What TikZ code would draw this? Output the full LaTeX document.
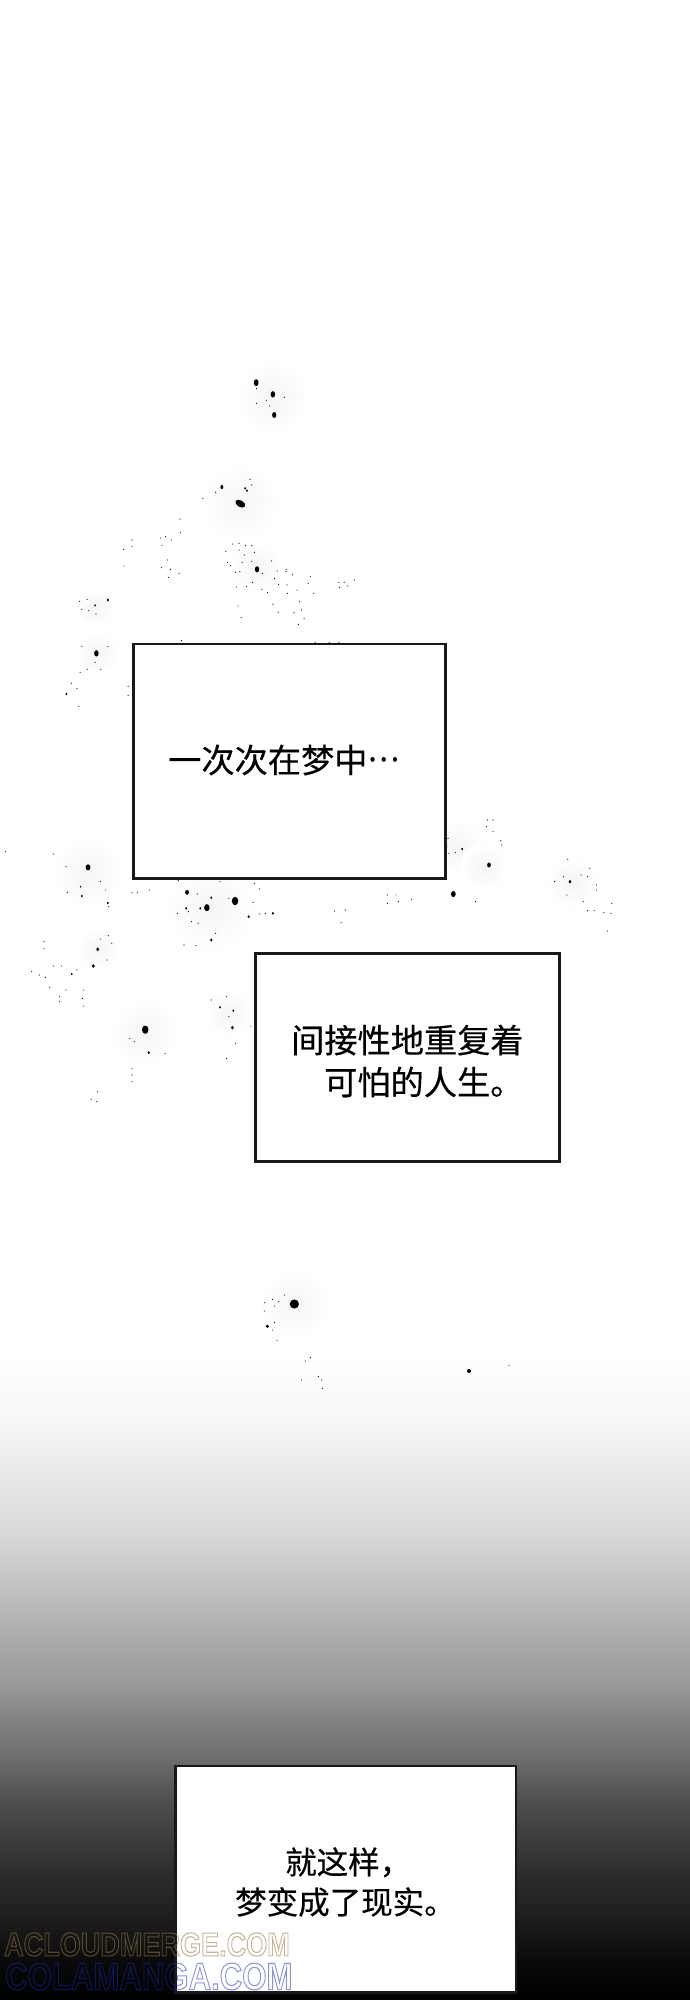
\documentclass[tikz,border=0pt]{standalone}
\usepackage{fontspec}
\newfontfamily\cjk[FakeBold=0.4]{Noto Sans CJK SC}
\newfontfamily\wm{Liberation Sans}
\pgfdeclareverticalshading{fadeblack}{690pt}{
 color(0pt)=(black);
 color(40pt)=(black!96);
 color(85pt)=(black!88);
 color(124pt)=(black!83);
 color(162pt)=(black!76);
 color(200pt)=(black!69);
 color(239pt)=(black!58);
 color(277pt)=(black!50);
 color(315pt)=(black!40);
 color(354pt)=(black!34);
 color(392pt)=(black!28);
 color(430pt)=(black!21);
 color(468pt)=(black!15);
 color(507pt)=(black!11);
 color(545pt)=(black!7);
 color(583pt)=(black!3);
 color(622pt)=(black!1);
 color(650pt)=(white)}
\tikzset{
 x=1pt,y=-1pt,
 panel/.style={draw=black!90,line width=2.6pt,fill=white,inner sep=0pt,outer sep=0pt,anchor=north west},
 caption/.style={anchor=west,inner sep=0pt,align=left,text=black,font=\cjk\fontsize{33.2}{42}\selectfont},
 captionb/.style={caption,font=\cjk\fontsize{31.5}{40}\selectfont},
 dotbig/.style={fill=black},
 glow/.style={inner color=black!4,outer color=white,draw=none},
 mark1/.style={opacity=.55,inner sep=0pt,anchor=west,xscale=.82,transform shape,font=\wm\bfseries\fontsize{33}{33}\selectfont},
 mark2/.style={opacity=.5,inner sep=0pt,anchor=west,xscale=.82,transform shape,font=\wm\bfseries\fontsize{38}{38}\selectfont},
}
\newcommand{\outl}[2]{\special{pdf:code 1 Tr 1.1 w #1 RG}#2\special{pdf:code 0 Tr}}
\begin{document}
\begin{tikzpicture}
\useasboundingbox (0,0) rectangle (690,2000);
\fill[white] (0,0) rectangle (690,2000);
\node[inner sep=0pt,outer sep=0pt,anchor=north west] (grad) at (0,1350) {\pgfuseshading{fadeblack}};
% glows
\foreach \x/\y/\r in {273/397/36,240/503/38,257/567/26,95/607/20,97/653/22,88/873/34,211/907/44,458/847/28,484/867/24,
 145/1033/34,229/1013/24,572/883/26,294/1304/34,98/949/22}{
  \shade[glow] (\x,\y) circle[radius=\r];
}
% tiny specks from first crop
\foreach \a/\b in {583/146,605/181,583/190,613/198,646/172,568/418,572/435,490/457,461/475,409/537,410/578,300/600,300/620,281/628,282/678,365/594,376/590,390/600,368/616,381/660,367/683,387/688,407/700,383/712,528/612,543/610,558/617,572/617,513/634,543/630,578/637,555/645,550/667,572/664,517/668,524/677,545/695,535/697,596/700,617/663,630/693,650/688,650/695,665/704,705/710,700/730,624/716,633/733,652/735,574/727,537/741,560/739,595/748,608/758,675/750,653/760,713/760,620/793,680/785,632/817,668/818,685/810,691/836,678/853,541/798,548/833,770/727,782/727,790/738,771/742,805/720,181/784,198/778,186/808,201/812,218/822,186/919,245/920,216/967,198/988,229/988,182/997,162/1030,175/1046,179/1099,291/1039,291/1066,412/902,716/908,748/908,770/908}{
  \fill[dotbig] ({\a/2.272},{340+\b/3}) circle[radius=.6];
}
% larger specks from first crop
\foreach \a/\b/\r in {582/128/3,620/163/2.8,623/225/2.6,504/441/1.8,557/445/1.2,561/452/1.2,584/688/2.7,219/940/2.8,245/780/1.4,216/796/1.1,151/1062/1.2}{
  \fill[dotbig] ({\a/2.272},{340+\b/3}) ellipse[x radius=.8*\r,y radius=1.15*\r];
}
\fill[dotbig] ({546/2.272},{340+491/3}) ellipse[x radius=5.4,y radius=3.3,rotate=-30];
% tiny specks from second crop
\foreach \a/\b in {12/335,122/342,150/380,153/457,228/425,240/450,247/500,300/458,312/458,340/450,405/422,448/462,500/425,520/475,575/487,590/447,578/430,428/515,403/520,435/545,450/550,590/522,603/520,418/615,445/617,490/580,246/587,228/597,254/610,100/605,100/625,243/660,122/678,140/678,175/690,72/695,90/705,103/712,113/742,150/750,190/750,135/770,187/775,135/785,190/798,480/780,515/770,520/830,570/858,535/910,515/955,295/895,305/905,375/940,300/985,300/1005,300/1025,222/1055,207/1078,220/1085,1018/295,1015/320,1020/340,1035/338,1107/240,1120/240,1105/260,1120/275,1138/302,1140/315,880/465,900/465,880/490,905/485,935/478,1080/485,760/513,785/510,775/548,1290/358,1340/385,1320/405,1335/410,1280/410,1260/425,1355/435,1355/450,1288/465,1325/485,1390/490,1335/512,1350/512,1372/518,1388/520,1380/573}{
  \fill[dotbig] ({\a/2.272},{740+\b/3}) circle[radius=.6];
}
% larger specks from second crop
\foreach \a/\b/\r in {200/382/2.8,1050/327/1.2,1111/375/2.2,1030/462/2.8,1295/425/1.7,425/457/2.2,534/483/3.8,470/503/3.2,565/530/1.4,620/520/1.4,480/600/1.4,222/628/1.8,212/678/1.8,163/702/1.1,330/869/3.8,528/863/1.7,338/938/1.4,500/802/1.2,530/812/1.2,245/489/1.2,186/468/1.2,183/440/.9,480/473/1.2,423/505/1.2,455/505/1.2}{
  \fill[dotbig] ({\a/2.272},{740+\b/3}) ellipse[x radius=.85*\r,y radius=1.1*\r];
}
% specks from third crop
\foreach \a/\b in {253/105,218/118,236/125,223/138,194/128,193/153,223/187,217/210,231/241,331/293,316/303,304/360,355/350,365/360,367/385,927/316}{
  \fill[dotbig] ({200+\a/3},{1260+\b/3}) circle[radius=.6];
}
\foreach \a/\b/\r in {283/132/4.6,202/199/1.7,807/333/2}{
  \fill[dotbig] ({200+\a/3},{1260+\b/3}) circle[radius=\r];
}
% panels
\node[panel,minimum width=312pt,minimum height=234.4pt] (p1) at (133.3,643.8) {};
\node[panel,minimum width=303.7pt,minimum height=208pt] (p2) at (255.7,953.7) {};
\node[panel,minimum width=340.8pt,minimum height=226.5pt] (p3) at (175.2,1766) {};
% captions
\node[caption] (t1) at (168,760) {一次次在梦中\raisebox{.34em}{\scalebox{.9}[1]{…}}};
\node[caption] (t2) at (291,1061) {间接性地重复着\\\hspace*{33pt}可怕的人生。};
\node[captionb] (t3) at (235,1882) {\hspace*{50pt}就这样，\\梦变成了现实。};
% watermark
\node[mark1] (w1) at (4,1944.5) {\outl{0.58 0.48 0.25}{ACLOUDMERGE.COM}};
\node[mark2] (w2) at (5,1976.5) {\outl{0.10 0.16 0.70}{COLAMANGA.COM}};
\end{tikzpicture}
\end{document}
